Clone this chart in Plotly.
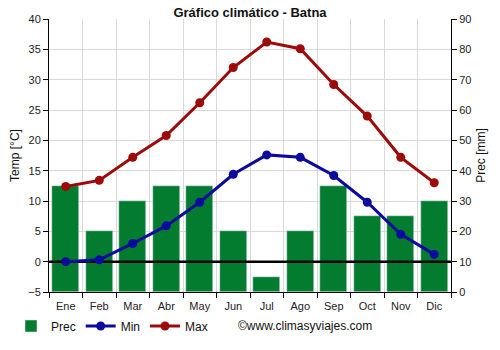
import plotly.graph_objects as go

months = ["Ene", "Feb", "Mar", "Abr", "May", "Jun", "Jul", "Ago", "Sep", "Oct", "Nov", "Dic"]
prec = [35, 20, 30, 35, 35, 20, 5, 20, 35, 25, 25, 30]
tmin = [0.0, 0.3, 3.0, 5.9, 9.8, 14.4, 17.6, 17.2, 14.2, 9.8, 4.5, 1.2]
tmax = [12.4, 13.4, 17.2, 20.8, 26.2, 32.0, 36.2, 35.1, 29.2, 24.0, 17.2, 13.0]

idx = list(range(len(months)))
bounds = [i - 0.5 for i in range(len(months) + 1)]

fig = go.Figure()
fig.add_trace(go.Bar(x=idx, y=prec, name="Prec", marker_color="#047c30", width=0.8,
                     xaxis="x", yaxis="y"))
fig.add_trace(go.Scatter(x=[bounds[0], bounds[-1]], y=[0, 0], mode="lines",
                         line=dict(color="black", width=2.5), showlegend=False,
                         hoverinfo="skip", xaxis="x", yaxis="y2"))
fig.add_trace(go.Scatter(x=idx, y=tmin, name="Min", mode="lines+markers",
                         line=dict(color="#0a0a9c", width=3), marker=dict(size=9),
                         xaxis="x", yaxis="y2"))
fig.add_trace(go.Scatter(x=idx, y=tmax, name="Max", mode="lines+markers",
                         line=dict(color="#9c0a0a", width=3), marker=dict(size=9),
                         xaxis="x", yaxis="y2"))

font = dict(family="Liberation Sans, Arial, sans-serif", size=11, color="#222")

fig.update_layout(
    width=500, height=350,
    margin=dict(l=49, r=49, t=19, b=58, autoexpand=False),
    paper_bgcolor="white", plot_bgcolor="white",
    font=font,
    showlegend=True,
    bargap=0,
    title=dict(text="<b>Gráfico climático - Batna</b>", x=0.5, xanchor="center",
               y=0.965, yanchor="middle", font=dict(size=13, color="#111")),
    xaxis=dict(range=[bounds[0], bounds[-1]], tickvals=bounds, ticktext=[""] * len(bounds),
               showgrid=True, gridcolor="#d9d9d9", gridwidth=1,
               ticks="outside", ticklen=5, tickcolor="black", automargin=False,
               showline=True, linecolor="black", linewidth=1, zeroline=False),
    xaxis2=dict(range=[bounds[0], bounds[-1]], overlaying="x", anchor="y",
                tickvals=idx, ticktext=months, showgrid=False, ticks="", automargin=False,
                showline=False, zeroline=False, side="bottom", ticklabelstandoff=6),
    yaxis=dict(range=[0, 90], side="right", dtick=10, showgrid=False,
               ticks="outside", ticklen=5, tickcolor="black", automargin=False,
               showline=True, linecolor="black", linewidth=1, zeroline=False,
               title=dict(text="Prec [mm]", font=dict(size=12, color="#111"), standoff=6),
               anchor="x"),
    yaxis2=dict(range=[-5, 40], side="left", overlaying="y", dtick=5,
                showgrid=True, gridcolor="#d9d9d9", gridwidth=1,
                ticks="outside", ticklen=5, tickcolor="black", automargin=False,
                showline=True, linecolor="black", linewidth=1, zeroline=False,
                title=dict(text="Temp [°C]", font=dict(size=12, color="#111"), standoff=6),
                anchor="x"),
    legend=dict(orientation="h", xref="container", yref="container",
                x=0.022, xanchor="left", y=24 / 350, yanchor="middle",
                font=dict(size=12, color="#111"), itemwidth=30, tracegroupgap=0,
                bgcolor="rgba(0,0,0,0)"),
    annotations=[dict(text="©www.climasyviajes.com", xref="paper", yref="paper",
                      x=(236 - 49) / 402, y=-(326 - 292) / 273, xanchor="left", yanchor="middle",
                      showarrow=False, font=dict(size=12, color="#111"))],
)

# invisible trace to activate xaxis2 labels
fig.add_trace(go.Scatter(x=[idx[0]], y=[None], xaxis="x2", yaxis="y2",
                         showlegend=False, hoverinfo="skip"))

fig.write_html("out.html")
